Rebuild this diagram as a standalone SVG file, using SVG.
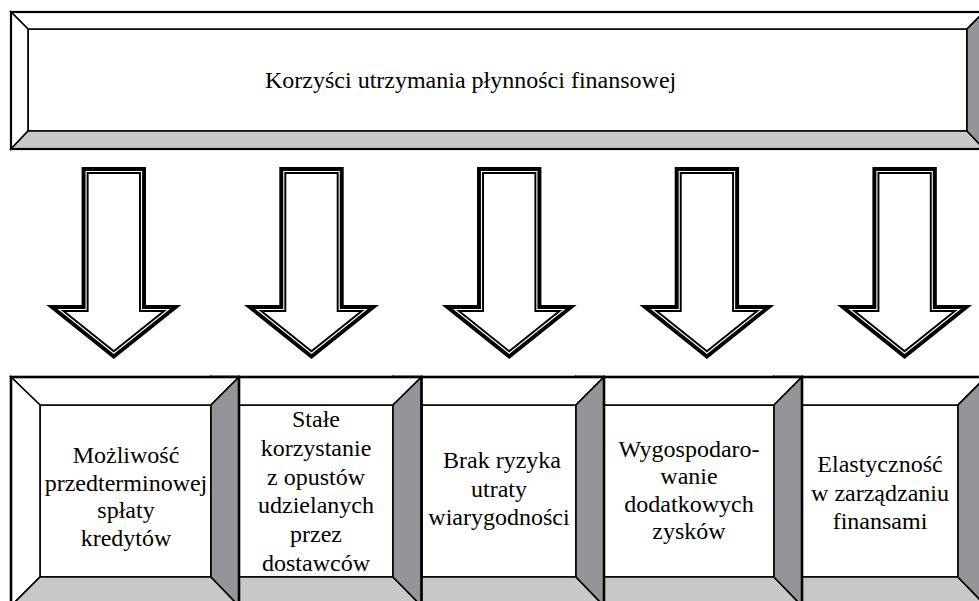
<svg xmlns="http://www.w3.org/2000/svg" xmlns:xlink="http://www.w3.org/1999/xlink" width="979" height="601" viewBox="0 0 979 601">
<style>
.t{font-family:"Liberation Serif","Times New Roman",serif;font-size:24px;fill:#000;text-anchor:middle}
.w{fill:#fff;stroke:#000;stroke-width:1.6;stroke-linejoin:miter}
.lg{fill:#c7c8ca;stroke:#000;stroke-width:1.6;stroke-linejoin:miter}
.dg{fill:#939598;stroke:#000;stroke-width:1.6;stroke-linejoin:miter}
.ol{fill:none;stroke:#000;stroke-width:2.6}
.ab{fill:#fff;stroke:#000;stroke-width:7;stroke-linejoin:miter;stroke-miterlimit:10}
.aw{fill:none;stroke:#fff;stroke-width:1.1;stroke-linejoin:miter;stroke-miterlimit:10}
</style>
<defs>
<g id="arrow">
<path class="ab" d="M -28.7 170.5 H 28.7 V 308.5 H 57.52 L 0 354.52 L -57.52 308.5 H -28.7 Z"/>
<path class="aw" d="M -27.7 171.5 H 27.7 V 309.5 H 54.67 L 0 353.24 L -54.67 309.5 H -27.7 Z"/>
</g>
</defs>
<rect width="979" height="601" fill="#fff"/>

<g id="top">
<rect class="w" x="28" y="29" width="939" height="102"/>
<polygon class="w" points="11,12 984,12 967,29 28,29"/>
<polygon class="w" points="11,12 28,29 28,131 11,149"/>
<polygon class="lg" points="28,131 967,131 984,149 11,149"/>
<polygon class="dg" points="967,29 984,12 984,149 967,131"/>
<rect class="ol" x="11" y="12" width="973" height="137" style="stroke-width:2.2"/>
<text class="t" x="265" y="88" style="text-anchor:start">Korzyści utrzymania płynności finansowej</text>
</g>

<g id="connectors">
<use xlink:href="#arrow" href="#arrow" transform="translate(113.8,0)"/>
<use xlink:href="#arrow" href="#arrow" transform="translate(311.5,0)"/>
<use xlink:href="#arrow" href="#arrow" transform="translate(509.2,0)"/>
<use xlink:href="#arrow" href="#arrow" transform="translate(706.9,0)"/>
<use xlink:href="#arrow" href="#arrow" transform="translate(904.6,0)"/>
</g>

<g id="box5">
<rect class="w" x="802" y="405" width="156" height="172"/>
<polygon class="w" points="774,377 986,377 958,405 802,405"/>
<polygon class="w" points="774,377 802,405 802,577 774,606"/>
<polygon class="lg" points="802,577 958,577 986,606 774,606"/>
<polygon class="dg" points="958,405 986,377 986,606 958,577"/>
<rect class="ol" x="774" y="377" width="212" height="229"/>
<text class="t" x="880"><tspan x="880" y="472">Elastyczność</tspan><tspan x="880" y="500.5">w zarządzaniu</tspan><tspan x="880" y="529">finansami</tspan></text>
</g>

<g id="box4">
<rect class="w" x="604" y="405" width="170" height="172"/>
<polygon class="w" points="576,377 802,377 774,405 604,405"/>
<polygon class="w" points="576,377 604,405 604,577 576,606"/>
<polygon class="lg" points="604,577 774,577 802,606 576,606"/>
<polygon class="dg" points="774,405 802,377 802,606 774,577"/>
<rect class="ol" x="576" y="377" width="226" height="229"/>
<text class="t" x="689"><tspan x="689" y="457">Wygospodaro-</tspan><tspan x="689" y="484">wanie</tspan><tspan x="689" y="511.5">dodatkowych</tspan><tspan x="689" y="539">zysków</tspan></text>
</g>

<g id="box3">
<rect class="w" x="421.5" y="405" width="154.5" height="172"/>
<polygon class="w" points="393,377 604,377 576,405 421.5,405"/>
<polygon class="w" points="393,377 421.5,405 421.5,577 393,606"/>
<polygon class="lg" points="421.5,577 576,577 604,606 393,606"/>
<polygon class="dg" points="576,405 604,377 604,606 576,577"/>
<rect class="ol" x="393" y="377" width="211" height="229"/>
<text class="t" x="499"><tspan x="502" y="468">Brak ryzyka</tspan><tspan x="499" y="496.5">utraty</tspan><tspan x="499" y="525">wiarygodności</tspan></text>
</g>

<g id="box2">
<rect class="w" x="239" y="405" width="154" height="172"/>
<polygon class="w" points="211,377 421.5,377 393,405 239,405"/>
<polygon class="w" points="211,377 239,405 239,577 211,606"/>
<polygon class="lg" points="239,577 393,577 421.5,606 211,606"/>
<polygon class="dg" points="393,405 421.5,377 421.5,606 393,577"/>
<rect class="ol" x="211" y="377" width="210.5" height="229"/>
<text class="t" x="316"><tspan x="316" y="427">Stałe</tspan><tspan x="316" y="455.8">korzystanie</tspan><tspan x="316" y="484.6">z opustów</tspan><tspan x="316" y="513.4">udzielanych</tspan><tspan x="316" y="542.2">przez</tspan><tspan x="316" y="571">dostawców</tspan></text>
</g>

<g id="box1">
<rect class="w" x="40" y="405" width="171" height="172"/>
<polygon class="w" points="11,377 239,377 211,405 40,405"/>
<polygon class="w" points="11,377 40,405 40,577 11,606"/>
<polygon class="lg" points="40,577 211,577 239,606 11,606"/>
<polygon class="dg" points="211,405 239,377 239,606 211,577"/>
<rect class="ol" x="11" y="377" width="228" height="229"/>
<text class="t" x="126"><tspan x="126" y="463">Możliwość</tspan><tspan x="126" y="490.5">przedterminowej</tspan><tspan x="126" y="518">spłaty</tspan><tspan x="126" y="545.5">kredytów</tspan></text>
</g>
</svg>
